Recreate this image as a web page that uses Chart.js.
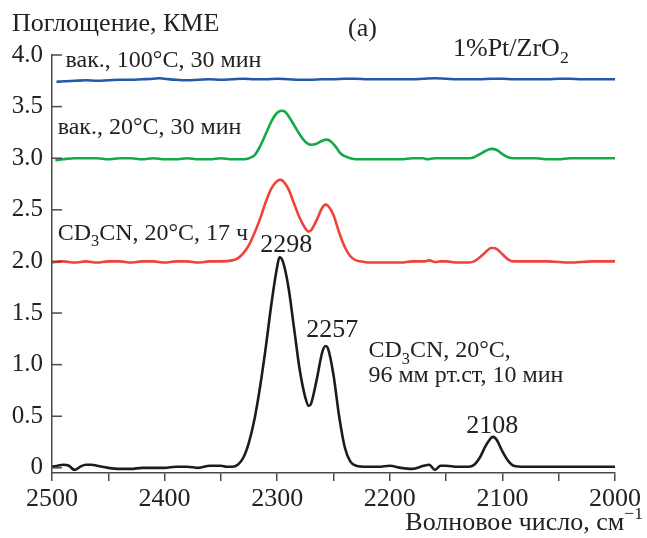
<!DOCTYPE html>
<html>
<head>
<meta charset="utf-8">
<script src="https://cdn.jsdelivr.net/npm/chart.js@4.4.0/dist/chart.umd.min.js"></script>
<style>
  html, body { margin: 0; background: #fff; }
  #wrap { width: 647px; height: 538px; position: relative; }
</style>
</head>
<body>
<div id="wrap"><canvas id="chart"></canvas></div>
<script>
// wavenumbers (cm-1) and absorbance readings for each spectrum
const blackWn  = [2500,2495,2490,2485,2480,2475,2470,2465,2460,2450,2440,2430,2420,2410,2400,2390,2380,2370,2360,2350,2345,2340,2335,2330,2325,2320,2315,2310,2305,2300,2298,2295,2290,2285,2280,2275,2272,2270,2265,2260,2257,2255,2250,2245,2240,2235,2230,2220,2210,2200,2190,2180,2170,2165,2160,2155,2150,2140,2130,2125,2120,2115,2110,2108,2105,2100,2095,2090,2080,2070,2060,2050,2040,2030,2020,2010,2000];
const blackAbs = [0.01,0.02,0.03,0.02,-0.02,0.01,0.03,0.03,0.02,0.0,-0.01,-0.01,0.0,0.0,0.0,0.01,0.01,0.0,0.02,0.02,0.01,0.01,0.03,0.10,0.25,0.48,0.80,1.18,1.60,1.95,2.04,2.00,1.75,1.35,0.95,0.68,0.60,0.62,0.85,1.12,1.18,1.16,0.90,0.50,0.20,0.06,0.02,0.01,0.01,0.02,0.0,-0.01,0.02,0.03,-0.02,0.02,0.02,0.01,0.01,0.03,0.10,0.21,0.29,0.30,0.27,0.16,0.07,0.02,0.01,0.01,0.01,0.01,0.01,0.01,0.01,0.01,0.01];

const redWn  = [2500,2490,2480,2470,2460,2450,2440,2430,2420,2410,2400,2390,2380,2370,2360,2350,2340,2335,2330,2325,2320,2315,2310,2305,2300,2297,2295,2290,2285,2280,2275,2272,2270,2265,2260,2257,2255,2250,2245,2240,2235,2230,2225,2220,2210,2200,2190,2180,2170,2165,2160,2155,2150,2140,2130,2125,2120,2115,2110,2108,2105,2100,2095,2090,2080,2060,2040,2020,2000];
const redAbs = [1.99,2.0,1.99,2.0,1.99,2.0,2.0,1.99,2.0,2.0,1.99,2.0,2.0,1.99,2.0,2.0,2.01,2.03,2.08,2.16,2.28,2.42,2.58,2.71,2.78,2.79,2.78,2.70,2.56,2.42,2.32,2.29,2.30,2.40,2.52,2.55,2.54,2.45,2.28,2.14,2.05,2.01,2.0,1.99,1.99,1.99,1.99,2.0,2.0,2.01,1.995,2.0,2.0,1.99,1.99,2.0,2.04,2.09,2.13,2.13,2.12,2.07,2.02,2.0,2.0,2.0,1.99,2.0,2.0];

const greenWn  = [2497,2490,2480,2470,2460,2450,2440,2430,2420,2410,2400,2390,2380,2370,2360,2350,2340,2330,2325,2320,2315,2310,2305,2300,2296,2293,2290,2285,2280,2275,2270,2265,2260,2256,2252,2248,2244,2240,2235,2230,2220,2210,2200,2190,2180,2170,2167,2160,2150,2140,2130,2125,2120,2115,2110,2105,2100,2095,2090,2080,2070,2060,2050,2040,2030,2020,2010,2000];
const greenAbs = [2.98,2.99,3.0,3.0,3.0,2.99,3.0,3.0,2.99,3.0,2.99,2.99,3.0,2.99,2.99,3.0,2.99,2.99,3.0,3.03,3.12,3.24,3.36,3.44,3.46,3.45,3.41,3.32,3.23,3.16,3.13,3.14,3.17,3.18,3.16,3.11,3.05,3.02,3.0,2.99,2.99,2.99,2.99,2.99,3.0,3.0,2.99,3.0,3.0,3.0,3.0,3.01,3.04,3.07,3.09,3.08,3.04,3.01,3.0,3.0,3.0,2.99,2.99,3.0,3.0,3.0,3.0,3.0];

const blueWn  = [2496,2490,2480,2470,2460,2450,2440,2430,2420,2410,2405,2400,2390,2380,2370,2360,2350,2340,2330,2320,2310,2300,2290,2280,2270,2260,2250,2240,2230,2220,2210,2200,2190,2180,2170,2160,2150,2140,2130,2120,2110,2100,2090,2080,2070,2060,2050,2040,2030,2020,2010,2000];
const blueAbs = [3.74,3.745,3.75,3.755,3.75,3.755,3.76,3.76,3.765,3.77,3.775,3.77,3.76,3.755,3.76,3.765,3.76,3.765,3.77,3.765,3.765,3.77,3.765,3.76,3.76,3.765,3.765,3.77,3.77,3.765,3.765,3.765,3.765,3.765,3.77,3.775,3.77,3.765,3.765,3.765,3.77,3.77,3.765,3.765,3.765,3.765,3.77,3.77,3.765,3.765,3.765,3.765];

const xTickValues = [2500,2450,2400,2350,2300,2250,2200,2150,2100,2050,2000];
const yTickValues = [0,0.5,1.0,1.5,2.0,2.5,3.0,3.5,4.0];

const FONT = '"Liberation Serif", "DejaVu Serif", serif';
const AXIS = '#4a4a4a';

function toPoints(xs, ys) {
    return xs.map((x, i) => ({ x: x, y: ys[i] }));
}

function series(xs, ys, color) {
    return {
        data: toPoints(xs, ys),
        borderColor: color,
        borderWidth: 2.6,
        pointRadius: 0,
        cubicInterpolationMode: 'monotone',
        fill: false
    };
}

// rich text: segments with optional sub/sup
function drawRich(ctx, x, y, parts, size, align) {
    let total = 0;
    parts.forEach(p => {
        ctx.font = (p.sub || p.sup ? size * 0.68 : size) + 'px ' + FONT;
        p.w = ctx.measureText(p.t).width;
        total += p.w;
    });
    let cx = align === 'right' ? x - total : (align === 'center' ? x - total / 2 : x);
    ctx.textAlign = 'left';
    ctx.textBaseline = 'alphabetic';
    parts.forEach(p => {
        ctx.font = (p.sub || p.sup ? size * 0.68 : size) + 'px ' + FONT;
        let dy = p.sub ? size * 0.28 : (p.sup ? -size * 0.42 : 0);
        ctx.fillText(p.t, cx, y + dy);
        cx += p.w;
    });
}

const annotations = {
    id: 'annotations',
    afterDraw(chart) {
        const ctx = chart.ctx;
        const xs = chart.scales.x, ys = chart.scales.y;
        const area = chart.chartArea;
        ctx.save();

        // inner ticks on the y axis
        ctx.strokeStyle = AXIS;
        ctx.lineWidth = 1.5;
        yTickValues.forEach(v => {
            const py = ys.getPixelForValue(v);
            ctx.beginPath();
            ctx.moveTo(area.left, py);
            ctx.lineTo(area.left + 10, py);
            ctx.stroke();
        });

        ctx.fillStyle = '#222';
        const at = (wn, a) => [xs.getPixelForValue(wn), ys.getPixelForValue(a)];

        // peak labels
        [[2292, 2.09, '2298'], [2251, 1.27, '2257'], [2109, 0.34, '2108']].forEach(l => {
            const p = at(l[0], l[1]);
            drawRich(ctx, p[0], p[1], [{ t: l[2] }], 26, 'center');
        });

        // spectrum labels
        let p = at(2488, 3.88);
        drawRich(ctx, p[0], p[1], [{ t: 'вак., 100°C, 30 мин' }], 24, 'left');
        p = at(2495, 3.23);
        drawRich(ctx, p[0], p[1], [{ t: 'вак., 20°C, 30 мин' }], 24, 'left');
        p = at(2495, 2.21);
        drawRich(ctx, p[0], p[1], [{ t: 'CD' }, { t: '3', sub: true }, { t: 'CN, 20°C, 17 ч' }], 24, 'left');
        p = at(2219, 1.07);
        drawRich(ctx, p[0], p[1], [{ t: 'CD' }, { t: '3', sub: true }, { t: 'CN, 20°C,' }], 24, 'left');
        p = at(2219, 0.83);
        drawRich(ctx, p[0], p[1], [{ t: '96 мм рт.ст, 10 мин' }], 24, 'left');

        // titles
        drawRich(ctx, 12, 31, [{ t: 'Поглощение, КМЕ' }], 26, 'left');
        drawRich(ctx, 348, 36, [{ t: '(a)' }], 26, 'left');
        drawRich(ctx, 453, 56, [{ t: '1%Pt/ZrO' }, { t: '2', sub: true }], 26, 'left');
        drawRich(ctx, 643, 530, [{ t: 'Волновое число, см' }, { t: '−1', sup: true }], 26, 'right');

        ctx.restore();
    }
};

new Chart(document.getElementById('chart'), {
    type: 'line',
    data: {
        datasets: [
            series(blueWn, blueAbs, '#2458a8'),
            series(greenWn, greenAbs, '#15a84b'),
            series(redWn, redAbs, '#ef433a'),
            series(blackWn, blackAbs, '#1c1c1c')
        ]
    },
    options: {
        responsive: true,
        maintainAspectRatio: false,
        animation: false,
        layout: { padding: { top: 55, right: 32, left: 0, bottom: 0 } },
        plugins: {
            legend: { display: false },
            tooltip: { enabled: false }
        },
        scales: {
            x: {
                type: 'linear',
                reverse: true,
                min: 2000,
                max: 2500,
                afterBuildTicks: s => { s.ticks = xTickValues.map(v => ({ value: v })); },
                afterFit: s => { s.height = 65; },
                ticks: {
                    callback: v => (v % 100 === 0 ? String(v) : ''),
                    autoSkip: false,
                    maxRotation: 0,
                    padding: 3,
                    color: '#222',
                    font: { family: FONT, size: 26 }
                },
                grid: { drawOnChartArea: false, drawTicks: true, tickLength: 8, color: AXIS, lineWidth: 1.5 },
                border: { color: AXIS, width: 1.5 }
            },
            y: {
                min: -0.05,
                max: 4.0,
                afterBuildTicks: s => { s.ticks = yTickValues.map(v => ({ value: v })); },
                afterFit: s => { s.width = 52; },
                ticks: {
                    callback: v => (v === 0 ? '0' : v.toFixed(1)),
                    padding: 9,
                    color: '#222',
                    font: { family: FONT, size: 25 }
                },
                grid: { drawOnChartArea: false, drawTicks: false },
                border: { color: AXIS, width: 1.5 }
            }
        }
    },
    plugins: [annotations]
});
</script>
</body>
</html>
